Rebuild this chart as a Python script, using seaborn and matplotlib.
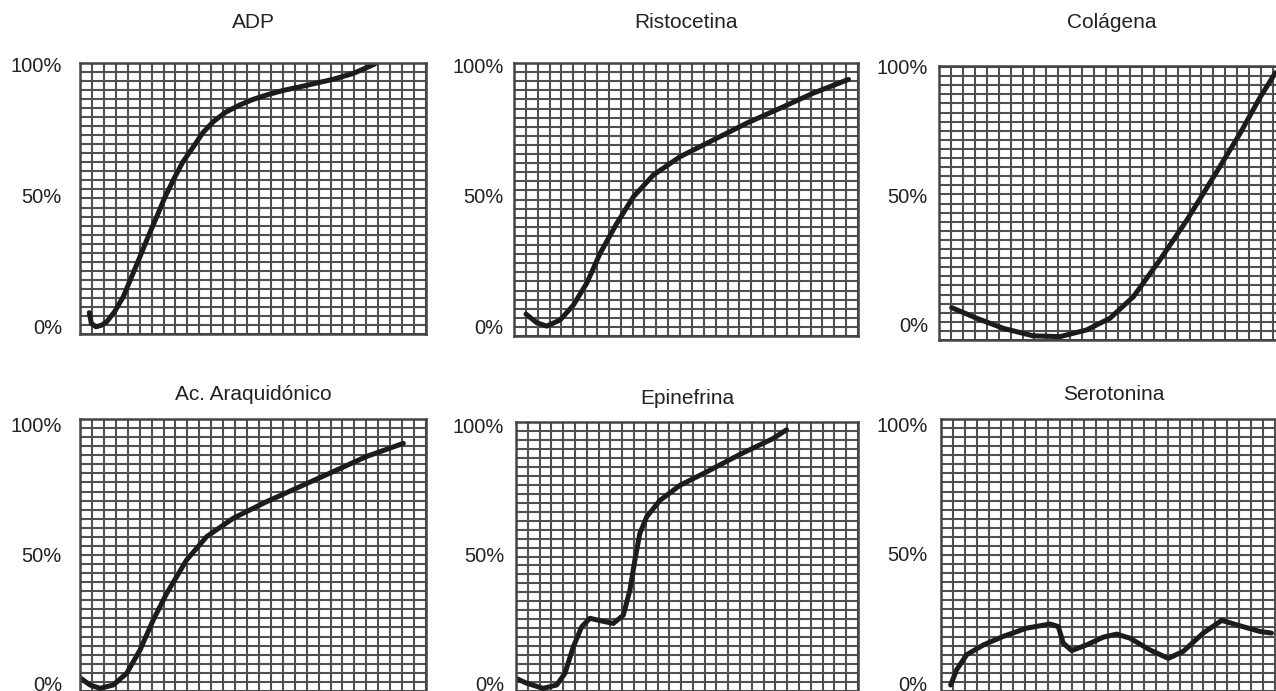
import numpy as np
import matplotlib
matplotlib.use("Agg")
import matplotlib.pyplot as plt
import seaborn as sns

# ---------------- data (time in grid units, response in %) ----------------
titles = ["ADP", "Ristocetina", "Colágena",
          "Ac. Araquidónico", "Epinefrina", "Serotonina"]

adp_x = [0.78, 0.95, 1.34, 1.8, 2.24, 2.9, 3.63, 4.3, 5.03, 5.7, 6.43, 7.1, 7.82, 8.6, 9.5, 10.3, 11.17, 12.2, 13.4, 14.5, 15.65, 17.0, 18.44, 19.8, 21.23, 22.9, 24.7]
adp_y = [5.1, 1.0, -0.3, 0.3, 1.6, 5.5, 11.2, 18.5, 26.5, 34.0, 41.7, 49.0, 55.7, 62.5, 68.4, 73.8, 78.0, 81.6, 84.4, 86.5, 88.2, 89.9, 91.3, 92.7, 94.2, 96.4, 100.0]

ris_x = [1.01, 1.91, 2.76, 3.88, 5.0, 6.13, 7.25, 8.66, 10.06, 11.75, 14.0, 16.8, 19.6, 22.4, 25.2, 28.2]
ris_y = [4.6, 1.3, 0.0, 2.3, 8.0, 16.4, 27.8, 39.3, 49.5, 57.9, 64.9, 71.3, 77.7, 83.4, 89.2, 94.5]

col_x = [1.06, 3.16, 5.39, 7.9, 10.14, 12.38, 14.33, 16.29, 18.5, 20.76, 22.99, 25.2, 26.9, 28.2]
col_y = [6.7, 2.6, -1.3, -4.2, -4.5, -1.9, 2.6, 10.9, 25.0, 40.4, 57.0, 73.7, 87.8, 97.4]

ara_x = [0.0, 0.84, 1.68, 2.79, 3.91, 5.03, 6.14, 7.27, 8.94, 10.62, 12.85, 15.65, 18.44, 21.23, 24.0, 27.1]
ara_y = [2.4, -0.4, -1.7, -0.4, 4.1, 13.1, 24.7, 35.0, 47.9, 56.9, 64.0, 70.4, 76.2, 82.0, 87.8, 92.9]

epi_x = [0.0, 0.9, 2.31, 3.45, 4.15, 4.86, 5.57, 6.27, 7.12, 8.25, 9.1, 9.66, 10.08, 10.5, 11.08, 12.2, 13.9, 16.16, 19.0, 21.8, 22.94]
epi_y = [2.2, 0.3, -1.7, -0.4, 4.1, 14.4, 22.1, 25.4, 24.5, 23.4, 26.6, 36.3, 47.9, 58.2, 64.6, 71.0, 76.8, 82.0, 88.8, 94.9, 98.3]

ser_x = [0.81, 1.31, 2.15, 3.55, 5.22, 7.18, 9.14, 9.83, 10.25, 10.95, 12.2, 13.6, 14.73, 15.84, 17.5, 19.05, 20.3, 21.98, 23.53, 25.06, 26.74, 27.7]
ser_y = [-0.7, 5.2, 11.0, 14.8, 18.1, 21.3, 22.9, 21.9, 15.5, 12.6, 14.8, 17.8, 19.0, 17.4, 12.9, 9.6, 12.3, 19.4, 24.3, 22.2, 20.0, 19.4]

series = [(adp_x, adp_y), (ris_x, ris_y), (col_x, col_y),
          (ara_x, ara_y), (epi_x, epi_y), (ser_x, ser_y)]

tick_vals = [0, 50, 100]
tick_labels = ["0%", "50%", "100%"]

# ---------------- layout (pixels) ----------------
W, H = 1276, 691
# left, top, width, bottom (px), ylim, label pad (pt), title pad (pt)
boxes = [
    (80, 63, 346, 334, (-3.05, 100.4), 13, 25),
    (514, 63, 344, 336, (-3.8, 100.8), 7.5, 25),
    (939, 66, 346, 340, (-5.8, 99.6), 8, 27),
    (80, 419, 346, 700, (-6.2, 102.3), 13, 14),
    (516, 422, 342, 700, (-6.2, 101.3), 8.5, 13),
    (941, 419, 346, 700, (-6.5, 102.2), 9.5, 14),
]

sns.set_style("white")
plt.rcParams["font.family"] = ["Liberation Sans", "DejaVu Sans"]

fig = plt.figure(figsize=(W / 100, H / 100), dpi=100)
fig.patch.set_facecolor("white")

grid_color = "#505050"
for (l, t, w, b, ylim, lpad, tpad), title, (xs, ys) in zip(boxes, titles, series):
    ax = fig.add_axes([l / W, 1 - b / H, w / W, (b - t) / H])
    ax.set_xlim(0, 29)
    ax.set_ylim(*ylim)
    nrows = int(round((b - t) / 9.1))
    ax.set_xticks(np.arange(0, 30), minor=True)
    ax.set_yticks(np.linspace(ylim[0], ylim[1], nrows + 1), minor=True)
    ax.set_xticks([])
    ax.set_yticks(tick_vals)
    ax.set_yticklabels(tick_labels, fontsize=14.5, color="#222222")
    ax.tick_params(axis="y", which="both", length=0, pad=lpad)
    ax.tick_params(axis="x", which="both", length=0)
    ax.grid(False, which="major")
    ax.grid(True, which="minor", color=grid_color, lw=1.5)
    ax.set_axisbelow(True)
    for s in ax.spines.values():
        s.set_color("#444444")
        s.set_linewidth(1.8)
    sns.lineplot(x=xs, y=ys, ax=ax, sort=False, color="#1c1c1c", lw=3.6,
                 estimator=None)
    for ln in ax.lines:
        ln.set_solid_capstyle("round")
        ln.set_solid_joinstyle("round")
    ax.set_title(title, fontsize=15, pad=tpad, color="#222222")

fig.savefig("out.png", dpi=100)
